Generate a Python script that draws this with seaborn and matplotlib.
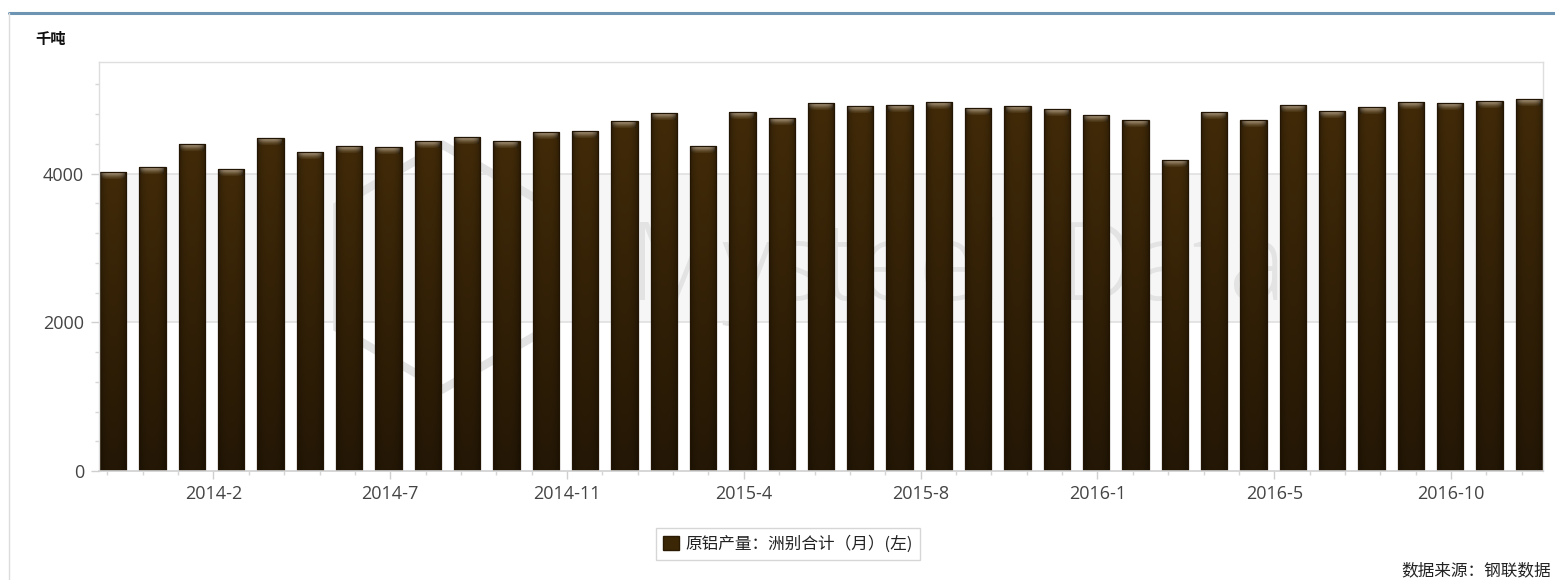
import numpy as np
import pandas as pd
import matplotlib
matplotlib.use("Agg")
import matplotlib.pyplot as plt
import seaborn as sns
from matplotlib.patches import Rectangle, RegularPolygon
from matplotlib.lines import Line2D
from matplotlib.ticker import FixedLocator, MultipleLocator, NullFormatter
from matplotlib.colors import to_rgb
from matplotlib.transforms import IdentityTransform

# ---------------- data ----------------
months = ["2013-12",
          "2014-01", "2014-02", "2014-03", "2014-04", "2014-05", "2014-06",
          "2014-07", "2014-08", "2014-09", "2014-10", "2014-11", "2014-12",
          "2015-01", "2015-02", "2015-03", "2015-04", "2015-05", "2015-06",
          "2015-07", "2015-08", "2015-09", "2015-10", "2015-11", "2015-12",
          "2016-01", "2016-02", "2016-03", "2016-04", "2016-05", "2016-06",
          "2016-07", "2016-08", "2016-09", "2016-10", "2016-11", "2016-12"]
production = [4024, 4083, 4392, 4060, 4473, 4293, 4374, 4352, 4432, 4490,
              4432, 4554, 4571, 4706, 4809, 4374, 4827, 4746, 4943, 4903,
              4921, 4957, 4880, 4915, 4863, 4782, 4723, 4181, 4822, 4723,
              4921, 4840, 4898, 4957, 4943, 4979, 4997]
tick_labels = ["2014-2", "2014-7", "2014-11", "2015-4",
               "2015-8", "2016-1", "2016-5", "2016-10"]
series_name = "原铝产量：洲别合计（月）(左)"
unit_label = "千吨"
source_label = "数据来源：钢联数据"

df = pd.DataFrame({"month": months, "value": production})

# ---------------- style ----------------
sns.set_style("white")
plt.rcParams["font.family"] = ["Open Sans", "Noto Sans CJK SC", "DejaVu Sans"]
CJK = ["Noto Sans CJK SC", "DejaVu Sans"]

W, H = 1555, 580
fig = plt.figure(figsize=(W / 100, H / 100), dpi=100)
fig.patch.set_facecolor("white")

L, R, T, B = 99, 1543, 62, 471
ax = fig.add_axes([L / W, 1 - B / H, (R - L) / W, (B - T) / H])
ax.set_facecolor("white")

YMAX = 5500

# bars
BAR_W = 0.67
sns.barplot(data=df, x="month", y="value", color="#3b2706", saturation=1,
            width=BAR_W, ax=ax, zorder=2)
bars = [p for p in ax.patches if isinstance(p, Rectangle)]

XL = (-0.36, len(months) - 1 + 0.36)
ax.set_xlim(*XL)
ax.set_ylim(0, YMAX)

# background band and grid
ax.axhspan(2000, 4000, color="#f6f6f6", zorder=0, lw=0)
for gy in (2000, 4000):
    ax.axhline(gy, color="#e0e0e0", lw=1.2, zorder=0.2)

# watermark
ax.text(958 / W, 1 - 272 / H, "Mysteel  Data", transform=fig.transFigure,
        fontsize=78, color="#e3e3e3", ha="center", va="center",
        fontweight="light", zorder=0.5, family="Open Sans")
hexa = RegularPolygon((443, H - 267), numVertices=6, radius=122,
                      transform=IdentityTransform(), facecolor="none",
                      edgecolor="#e2e2e2", lw=6, zorder=0.5)
ax.add_artist(hexa)

px_per_unit = (B - T) / YMAX
cap_units = 7.0 / px_per_unit

body_top = np.array(to_rgb("#412a08"))
body_bot = np.array(to_rgb("#241705"))
cap_top = np.array(to_rgb("#b8a68e"))
cap_bot = np.array(to_rgb("#4a3412"))

nx, ny = 40, 80
u = np.linspace(-1, 1, nx)[None, :, None]
t = np.linspace(0, 1, ny)[:, None, None]
shade = 1 - 0.28 * np.abs(u) ** 3
body_img = np.clip((body_bot + (body_top - body_bot) * t) * shade, 0, 1)
tc = np.linspace(0, 1, 20)[:, None, None]
cap_shade = 1 - 0.5 * np.abs(u) ** 4
cap_img = np.clip((cap_bot + (cap_top - cap_bot) * tc ** 1.3) * cap_shade, 0, 1)

for p in bars:
    x0, w, h = p.get_x(), p.get_width(), p.get_height()
    if h <= 0:
        continue
    im = ax.imshow(body_img, extent=(x0, x0 + w, 0, h), origin="lower",
                   aspect="auto", interpolation="bilinear", zorder=2.1)
    im.set_clip_path(p)
    ax.imshow(cap_img, extent=(x0 + 0.03, x0 + w - 0.03, h - cap_units, h - 0.6 / px_per_unit),
              origin="lower", aspect="auto", interpolation="bilinear",
              zorder=2.2)
    p.set_facecolor("none")
    p.set_edgecolor("#221503")
    p.set_linewidth(0.9)
    p.set_zorder(2.5)

ax.set_xlim(*XL)
ax.set_ylim(0, YMAX)
ax.set_aspect("auto")

# ticks
first, step = 2.55, 4.496
major_pos = [first + step * k for k in range(len(tick_labels))]
ax.xaxis.set_major_locator(FixedLocator(major_pos))
ax.set_xticklabels(tick_labels)
minor_step = step / 5
minor_pos = [first + minor_step * k for k in range(-3, 40)]
minor_pos = [m for m in minor_pos if XL[0] < m < XL[1]]
ax.xaxis.set_minor_locator(FixedLocator(minor_pos))
ax.xaxis.set_minor_formatter(NullFormatter())

ax.yaxis.set_major_locator(FixedLocator([0, 2000, 4000]))
ax.yaxis.set_minor_locator(MultipleLocator(400))
ax.yaxis.set_minor_formatter(NullFormatter())

ax.tick_params(axis="both", which="major", length=5.8, width=1, color="#cfcfcf",
               labelsize=13, labelcolor="#444444", direction="out")
ax.tick_params(axis="both", which="minor", length=3.2, width=1, color="#d6d6d6",
               direction="out")
ax.tick_params(axis="x", which="major", pad=4)
ax.tick_params(axis="y", which="major", pad=5)
ax.tick_params(bottom=True, left=True, which="both")
ax.set_xlabel("")
ax.set_ylabel("")

for s in ["top", "right", "left"]:
    ax.spines[s].set_color("#dedede")
    ax.spines[s].set_linewidth(1)
ax.spines["bottom"].set_color("#d0d0d0")
ax.spines["bottom"].set_linewidth(1.2)

# frame decorations
fig.add_artist(Line2D([9 / W, 1], [1 - 13 / H, 1 - 13 / H], color="#6d94b2", lw=2.2))
fig.add_artist(Line2D([9 / W, 9 / W], [0, 1 - 13 / H], color="#dcdcdc", lw=1))

# texts
fig.text(35 / W, 1 - 39 / H, unit_label, ha="left", va="center",
         fontsize=11, color="#111111", family=CJK, fontweight="bold")
fig.text(1551 / W, 1 - 571 / H, source_label, ha="right", va="center",
         fontsize=12, color="#222222", family=CJK)

handle = Rectangle((0, 0), 1, 1, facecolor="#3b2706", edgecolor="#2a1a04")
leg = fig.legend([handle], [series_name], loc="center",
                 bbox_to_anchor=(788 / W, 1 - 544 / H), frameon=True,
                 fancybox=False, edgecolor="#cccccc", handlelength=0.95,
                 handleheight=0.95, handletextpad=0.35, borderpad=0.45,
                 borderaxespad=0, prop={"family": CJK, "size": 12})
leg.get_frame().set_linewidth(1)
for txt in leg.get_texts():
    txt.set_color("#222222")

fig.savefig("out.png", dpi=100, facecolor="white")
